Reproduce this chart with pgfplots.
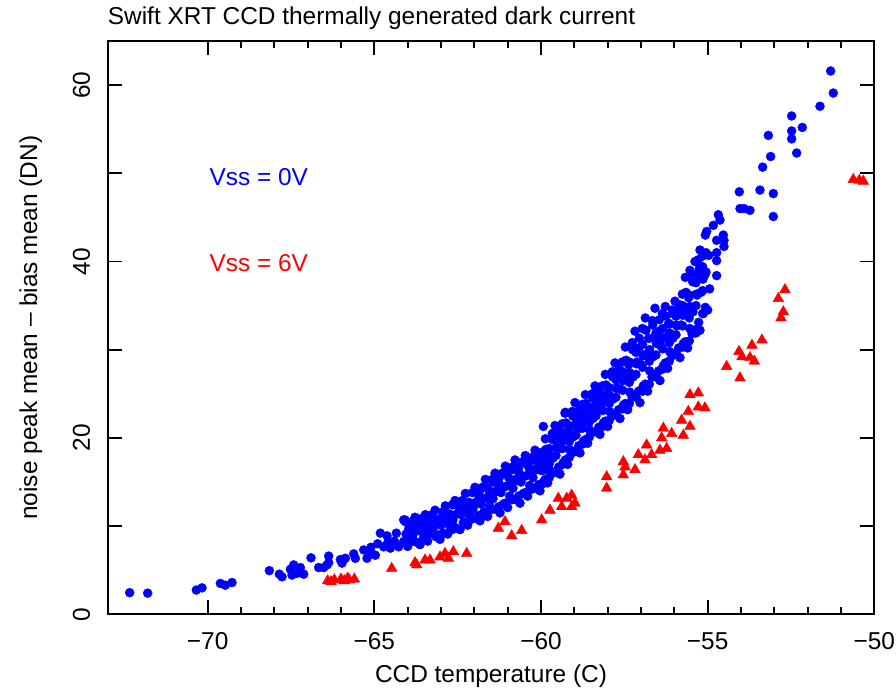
\documentclass[border=0pt]{standalone}
\usepackage{fontspec}
\setmainfont{Liberation Sans}
\usepackage{pgfplots}
\pgfplotsset{compat=1.18}

\definecolor{vblue}{RGB}{0,0,255}
\definecolor{vred}{RGB}{255,0,0}

\begin{document}
\fontsize{24.5}{29}\selectfont
\begin{tikzpicture}
\begin{axis}[
  scale only axis, width=766.6bp, height=573.3bp,
  xmin=-73, xmax=-50, ymin=0, ymax=65,
  xtick={-70,-65,-60,-55,-50}, xticklabels={−70,−65,−60,−55,−50},
  minor x tick num=4,
  ytick={0,10,...,60}, yticklabels={0,,20,,40,,60},
  tick align=inside, major tick length=14bp, minor tick length=7bp,
  axis line style={line width=1.8bp},
  every tick/.style={black, line width=1.8bp},
  xticklabel style={anchor=base, inner sep=0pt}, xticklabel shift=35bp,
  yticklabel style={rotate=90, anchor=base, inner sep=0pt}, yticklabel shift=17.7bp,
  xlabel={CCD temperature (C)},
  ylabel={noise peak mean – bias mean (DN)},
  xlabel style={at={(axis description cs:0.5,-0.1198)}, anchor=base, inner sep=0pt},
  ylabel style={at={(axis description cs:-0.0922,0.5)}, anchor=base, inner sep=0pt},
  title={Swift XRT CCD thermally generated dark current},
  title style={at={(axis description cs:0,1.018)}, anchor=base west, inner sep=0pt},
]
% Vss = 0V
\addplot[only marks, mark=*, mark size=4.5bp, vblue, mark options={draw=vblue, fill=vblue}] coordinates {
(-72.34,2.45) (-71.8,2.4) (-70.34,2.75) (-70.17,3.0) (-69.62,3.5) (-69.47,3.3) (-69.27,3.6)
(-68.15,4.95) (-67.85,4.55) (-67.77,4.25) (-67.52,5.1) (-67.42,5.6) (-67.47,4.45) (-67.32,4.65)
(-67.22,5.3) (-67.12,4.55) (-66.9,6.4) (-66.67,5.3) (-66.52,5.3) (-66.37,6.6) (-66.37,5.85)
(-66.42,5.6) (-66.02,6.2) (-65.97,5.8) (-65.87,6.35) (-65.62,6.85) (-65.57,6.35) (-65.32,7.3)
(-65.22,6.35) (-65.12,7.05) (-64.97,6.7) (-64.82,9.2) (-64.62,8.9) (-64.72,7.65) (-64.52,7.5)
(-64.34,9.2) (-64.27,7.65) (-64.12,10.7) (-64.12,8.25) (-65.1,7.6) (-64.9,8.0) (-64.6,8.1) (-64.4,8.3)
(-64.00,7.7) (-63.94,8.5) (-64.05,9.1) (-63.97,9.7) (-64.07,10.5)
(-63.75,8.2) (-63.84,9.0) (-63.72,9.7) (-63.86,10.5) (-63.78,11.0)
(-63.63,7.9) (-63.53,8.6) (-63.60,9.4) (-63.66,10.1) (-63.56,10.9)
(-63.40,8.3) (-63.34,9.1) (-63.45,9.8) (-63.37,10.5) (-63.47,11.3)
(-63.15,8.8) (-63.24,9.7) (-63.12,10.4) (-63.26,11.3) (-63.18,11.8)
(-63.03,8.5) (-62.93,9.2) (-63.00,10.1) (-63.06,10.8) (-62.96,11.6)
(-62.80,9.1) (-62.74,10.0) (-62.85,10.7) (-62.77,11.4) (-62.87,12.3)
(-62.55,9.8) (-62.64,10.7) (-62.52,11.4) (-62.66,12.4) (-62.58,12.9)
(-62.43,9.6) (-62.33,10.4) (-62.40,11.3) (-62.46,12.1) (-62.36,12.9)
(-62.20,10.1) (-62.14,11.1) (-62.25,11.9) (-62.17,12.7) (-62.27,13.7)
(-61.95,10.9) (-62.04,11.9) (-61.92,12.8) (-62.06,13.8) (-61.98,14.4)
(-61.83,10.6) (-61.73,11.5) (-61.80,12.5) (-61.86,13.4) (-61.76,14.4)
(-61.60,11.1) (-61.54,12.3) (-61.65,13.2) (-61.57,14.1) (-61.67,15.3)
(-61.35,11.9) (-61.44,13.1) (-61.32,14.1) (-61.46,15.3) (-61.38,16.0)
(-61.23,11.5) (-61.13,12.5) (-61.20,13.8) (-61.26,14.8) (-61.16,16.0)
(-61.00,12.1) (-60.94,13.4) (-61.05,14.5) (-60.97,15.5) (-61.07,16.8)
(-60.75,13.0) (-60.84,14.3) (-60.72,15.4) (-60.86,16.7) (-60.78,17.5)
(-60.63,12.6) (-60.53,13.7) (-60.60,15.0) (-60.66,16.1) (-60.56,17.3)
(-60.40,13.4) (-60.34,14.6) (-60.45,15.7) (-60.37,16.7) (-60.47,18.0)
(-60.15,14.3) (-60.24,15.5) (-60.12,16.6) (-60.26,17.8) (-60.18,18.6)
(-60.03,14.0) (-59.93,15.0) (-60.00,16.3) (-60.06,17.3) (-59.96,18.4)
(-59.80,14.9) (-59.74,16.3) (-59.85,17.4) (-59.77,18.5) (-59.87,19.9)
(-59.55,16.1) (-59.64,17.7) (-59.52,18.9) (-59.66,20.5) (-59.58,21.4)
(-59.43,15.9) (-59.33,17.2) (-59.40,18.8) (-59.46,20.1) (-59.36,21.6)
(-59.20,17.0) (-59.14,18.7) (-59.25,20.0) (-59.17,21.3) (-59.27,22.9)
(-58.95,18.5) (-59.04,20.1) (-58.92,21.4) (-59.06,23.0) (-58.98,24.0)
(-58.83,18.3) (-58.73,19.6) (-58.80,21.1) (-58.86,22.4) (-58.76,23.8)
(-58.60,19.4) (-58.54,20.9) (-58.65,22.2) (-58.57,23.4) (-58.67,24.9)
(-58.35,20.7) (-58.44,22.2) (-58.32,23.5) (-58.46,25.0) (-58.38,25.9)
(-58.23,20.4) (-58.13,21.7) (-58.20,23.2) (-58.26,24.5) (-58.16,25.9)
(-58.00,21.3) (-57.94,23.0) (-58.05,24.3) (-57.97,25.6) (-58.07,27.2)
(-57.75,22.6) (-57.84,24.4) (-57.72,25.7) (-57.86,27.5) (-57.78,28.5)
(-57.63,22.2) (-57.53,23.7) (-57.60,25.5) (-57.66,27.0) (-57.56,28.6)
(-57.40,23.2) (-57.34,25.2) (-57.45,26.8) (-57.37,28.3) (-57.47,30.3)
(-57.15,24.7) (-57.24,26.9) (-57.12,28.6) (-57.26,30.8) (-57.18,32.1)
(-57.03,24.0) (-56.93,25.9) (-57.00,28.3) (-57.06,30.2) (-56.96,32.4)
(-56.80,25.3) (-56.74,27.6) (-56.85,29.5) (-56.77,31.3) (-56.87,33.6)
(-56.55,27.0) (-56.64,29.2) (-56.52,31.1) (-56.66,33.3) (-56.58,34.7)
(-56.43,26.5) (-56.33,28.2) (-56.40,30.4) (-56.46,32.1) (-56.36,34.1)
(-56.20,27.9) (-56.14,29.8) (-56.25,31.4) (-56.17,33.0) (-56.27,34.9)
(-55.95,29.6) (-56.04,31.3) (-55.92,32.7) (-56.06,34.5) (-55.98,35.5)
(-55.83,29.1) (-55.73,30.7) (-55.80,32.8) (-55.86,34.4) (-55.76,36.3)
(-55.60,30.2) (-55.54,32.4) (-55.65,34.2) (-55.57,35.9) (-55.67,38.2)
(-55.35,31.9) (-55.44,34.3) (-55.32,36.2) (-55.46,38.6) (-55.38,40.0)
(-55.23,32.2) (-55.13,34.1) (-55.20,36.5) (-55.26,38.4) (-55.16,40.6)
(-55.00,34.5) (-54.94,36.9) (-55.05,38.8) (-54.97,40.7) (-55.07,43.0)
(-61.87,11.2) (-61.94,12.6) (-61.85,13.9)
(-61.67,11.6) (-61.74,13.1) (-61.65,14.4)
(-61.47,11.9) (-61.54,13.5) (-61.45,15.0)
(-61.27,12.2) (-61.34,13.9) (-61.25,15.5)
(-61.07,12.6) (-61.14,14.4) (-61.05,16.0)
(-60.87,13.0) (-60.94,14.8) (-60.85,16.4)
(-60.67,13.4) (-60.74,15.2) (-60.65,16.8)
(-60.47,13.8) (-60.54,15.6) (-60.45,17.2)
(-60.27,14.2) (-60.34,16.0) (-60.25,17.5)
(-60.07,14.7) (-60.14,16.4) (-60.05,17.9)
(-59.87,15.3) (-59.94,17.1) (-59.85,18.7)
(-59.67,16.0) (-59.74,18.0) (-59.65,19.8)
(-59.47,16.7) (-59.54,18.9) (-59.45,20.8)
(-59.27,17.5) (-59.34,19.7) (-59.25,21.7)
(-59.07,18.3) (-59.14,20.5) (-59.05,22.5)
(-58.87,19.1) (-58.94,21.2) (-58.85,23.2)
(-58.67,19.8) (-58.74,21.9) (-58.65,23.9)
(-58.47,20.6) (-58.54,22.6) (-58.45,24.5)
(-58.27,21.2) (-58.34,23.3) (-58.25,25.3)
(-58.07,21.9) (-58.14,24.0) (-58.05,26.0)
(-57.87,22.5) (-57.94,24.8) (-57.85,26.9)
(-57.67,23.2) (-57.74,25.6) (-57.65,27.8)
(-57.47,23.9) (-57.54,26.5) (-57.45,28.8)
(-57.27,24.6) (-57.34,27.4) (-57.25,30.0)
(-57.07,25.3) (-57.14,28.4) (-57.05,31.3)
(-56.87,26.1) (-56.94,29.3) (-56.85,32.2)
(-56.67,26.9) (-56.74,30.0) (-56.65,32.8)
(-56.47,27.6) (-56.54,30.7) (-56.45,33.4)
(-56.27,28.5) (-56.34,31.3) (-56.25,33.8)
(-56.07,29.3) (-56.14,31.9) (-56.05,34.1)
(-55.87,30.2) (-55.94,32.8) (-55.85,35.1)
(-55.67,30.9) (-55.74,33.9) (-55.65,36.5)
(-55.47,31.8) (-55.54,34.9) (-55.45,37.7)
(-55.27,33.1) (-55.34,36.3) (-55.25,39.2)
(-55.07,34.8) (-55.14,38.0) (-55.05,41.0)
(-59.95,14.8) (-59.95,16.3) (-59.95,17.8)
(-59.75,15.5) (-59.75,17.1) (-59.75,18.8)
(-59.55,16.2) (-59.55,18.0) (-59.55,19.7)
(-59.35,17.0) (-59.35,18.8) (-59.35,20.6)
(-59.15,17.8) (-59.15,19.6) (-59.15,21.4)
(-58.95,18.5) (-58.95,20.3) (-58.95,22.1)
(-58.75,19.3) (-58.75,21.1) (-58.75,22.8)
(-58.55,20.1) (-58.55,21.8) (-58.55,23.5)
(-58.35,20.7) (-58.35,22.5) (-58.35,24.2)
(-58.15,21.3) (-58.15,23.1) (-58.15,24.9)
(-57.95,22.0) (-57.95,23.9) (-57.95,25.7)
(-57.75,22.6) (-57.75,24.6) (-57.75,26.6)
(-57.55,23.3) (-57.55,25.4) (-57.55,27.5)
(-57.35,23.9) (-57.35,26.3) (-57.35,28.6)
(-57.15,24.6) (-57.15,27.2) (-57.15,29.7)
(-56.95,25.3) (-56.95,28.0) (-56.95,30.6)
(-56.75,26.1) (-56.75,28.7) (-56.75,31.3)
(-56.55,26.9) (-56.55,29.4) (-56.55,31.9)
(-56.35,27.8) (-56.35,30.1) (-56.35,32.4)
(-56.15,28.7) (-56.15,30.8) (-56.15,32.9)
(-55.95,29.6) (-55.95,31.7) (-55.95,33.8)
(-55.75,30.3) (-55.75,32.7) (-55.75,35.0)
(-55.55,31.0) (-55.55,33.6) (-55.55,36.2)
(-55.35,32.3) (-55.35,35.0) (-55.35,37.6)
(-55.15,34.1) (-55.15,36.7) (-55.15,39.4)
(-63.87,8.3) (-63.92,9.6) (-63.47,8.7) (-63.52,10.0) (-63.07,9.0) (-63.12,10.6)
(-62.67,9.6) (-62.72,11.3) (-62.27,10.4) (-62.32,12.2) (-62.07,10.8) (-62.12,12.6)
(-59.93,21.3) (-59.28,22.8) (-63.63,10.5) (-64.08,10.7)
(-55.03,43.4) (-54.83,44.1) (-54.68,45.3) (-54.63,44.7) (-54.53,43.0) (-54.73,42.4)
(-54.51,42.4) (-54.51,41.7) (-54.73,41.0) (-54.73,40.1) (-54.73,38.4) (-55.23,41.3)
(-55.28,40.2) (-55.53,39.0) (-55.23,39.0) (-55.08,38.5)
(-54.05,47.9) (-54.03,46.0) (-53.91,46.0) (-53.73,45.8) (-53.43,48.1) (-53.03,47.7)
(-53.03,45.1) (-53.35,50.7) (-53.11,51.9) (-53.18,54.3) (-52.48,56.5) (-52.48,54.8)
(-52.16,55.2) (-52.48,53.9) (-52.33,52.3) (-51.63,57.6) (-51.31,61.6) (-51.23,59.1)
};
% Vss = 6V
\addplot[only marks, mark=triangle*, mark size=6.2bp, vred, mark options={draw=vred, fill=vred}] coordinates {
(-66.4,3.8) (-66.2,3.9) (-66.0,4.0) (-65.8,4.1) (-65.6,4.0) (-66.3,3.7) (-65.9,3.8) (-65.75,3.9)
(-64.48,5.2) (-63.78,5.85) (-63.73,5.6) (-63.48,6.15) (-63.33,6.15) (-63.03,6.5) (-62.88,6.9)
(-62.78,6.35) (-62.63,7.1) (-62.23,6.9)
(-61.28,9.75) (-61.08,10.5) (-60.88,8.9) (-60.58,9.5) (-59.98,10.7) (-59.73,11.8) (-59.48,13.15)
(-59.38,12.2) (-59.23,13.15) (-59.08,13.5) (-58.98,12.6) (-59.08,12.2)
(-58.03,15.6) (-58.03,14.3) (-57.53,17.3) (-57.48,16.7) (-57.53,15.8) (-57.18,16.4) (-57.08,18.1)
(-56.83,19.2) (-56.88,17.5) (-56.68,18.1) (-56.43,18.6) (-56.33,21.1) (-56.38,20.0) (-56.23,18.8)
(-56.08,20.5) (-55.73,20.3) (-55.78,22.0) (-55.53,21.3) (-55.58,23.0) (-55.53,24.9) (-55.28,25.1)
(-55.28,23.5) (-55.08,23.4)
(-54.43,28.1) (-54.06,29.8) (-54.03,26.8) (-53.97,29.2) (-53.73,29.1) (-53.67,30.5) (-53.6,28.7)
(-53.37,31.1) (-52.88,35.8) (-52.73,34.3) (-52.8,33.6) (-52.68,36.8)
(-50.63,49.3) (-50.45,49.2) (-50.33,49.1)
};
\node[anchor=base west, inner sep=0pt, text=vblue] at (axis cs:-69.95,48.67) {Vss = 0V};
\node[anchor=base west, inner sep=0pt, text=vred] at (axis cs:-69.95,38.84) {Vss = 6V};
\end{axis}
\pgfresetboundingbox
\path (-107.7bp,-75.7bp) rectangle ++(896bp,690bp);
\end{tikzpicture}
\end{document}
